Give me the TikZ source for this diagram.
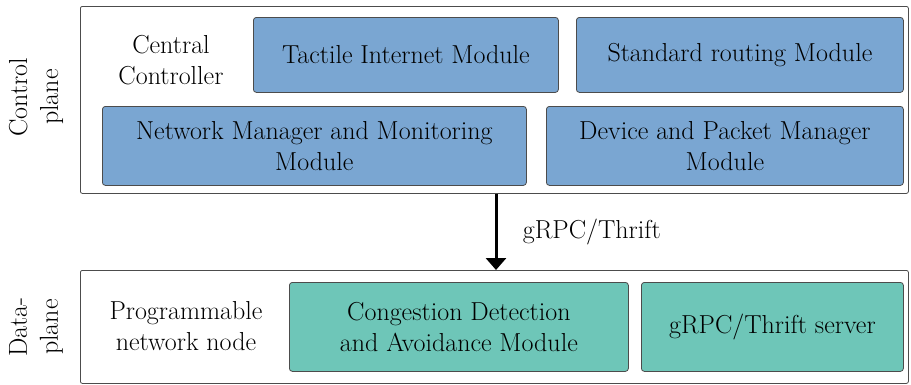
\documentclass[tikz,border=0pt]{standalone}
\usetikzlibrary{arrows.meta}
\begin{document}
\begin{tikzpicture}[x=1pt,y=-1pt,
  plane/.style={draw=black!70,line width=0.8pt,rounded corners=2pt,fill=white},
  mod/.style={draw=black!70,line width=0.8pt,rounded corners=3pt,align=center,font=\fontsize{26}{31}\selectfont},
  bluemod/.style={mod,fill=blueA},
  tealmod/.style={mod,fill=tealA},
  txt/.style={align=center,font=\fontsize{26}{31}\selectfont}]
\definecolor{blueA}{RGB}{122,166,210}
\definecolor{tealA}{RGB}{110,198,184}
\useasboundingbox (0,0) rectangle (911,384);
% control plane
\node[plane,minimum width=828,minimum height=187,anchor=north west] (cp) at (80,6) {};
\node[bluemod,minimum width=305,minimum height=75,anchor=north west] (tim) at (253,17) {Tactile Internet Module};
\node[bluemod,minimum width=327,minimum height=75,anchor=north west] (srm) at (576,17) {Standard routing Module};
\node[bluemod,minimum width=424,minimum height=79,anchor=north west] (nmm) at (102,106) {Network Manager and Monitoring\\Module};
\node[bluemod,minimum width=357,minimum height=79,anchor=north west] (dpm) at (546,106) {Device and Packet Manager\\Module};
\node[txt] (cc) at (171,60) {Central\\Controller};
\node[txt,rotate=90] (cpl) at (36,97) {Control\\plane};
% data plane
\node[plane,minimum width=828,minimum height=113,anchor=north west] (dp) at (80,270) {};
\node[tealmod,minimum width=339,minimum height=89,anchor=north west] (cda) at (289,282) {Congestion Detection\\and Avoidance Module};
\node[tealmod,minimum width=262,minimum height=89,anchor=north west] (gts) at (641,282) {gRPC/Thrift server};
\node[txt] (pnn) at (186,326) {Programmable\\network node};
\node[txt,rotate=90] (dpl) at (36,327) {Data-\\plane};
% arrow
\coordinate (a1) at (496,193);
\coordinate (a2) at (496,270);
\draw[line width=3pt,-{Triangle[length=12pt,width=20pt]}] (cp.south -| a1) -- (dp.north -| a2) node[midway,anchor=west,xshift=22pt,font=\fontsize{26}{31}\selectfont] (lbl) {gRPC/Thrift};
\end{tikzpicture}
\end{document}
